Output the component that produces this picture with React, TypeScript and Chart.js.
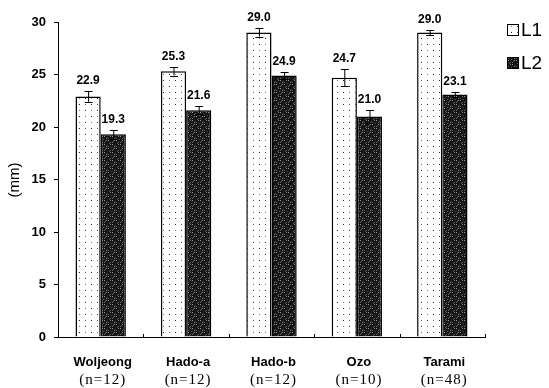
import React, { useEffect, useRef } from "react";
import { Chart, registerables } from "chart.js";

Chart.register(...registerables);

const sites = ["Woljeong", "Hado-a", "Hado-b", "Ozo", "Tarami"];
const sampleSizes = ["(n=12)", "(n=12)", "(n=12)", "(n=10)", "(n=48)"];
const l1Values = [22.9, 25.3, 29.0, 24.7, 29.0];
const l2Values = [19.3, 21.6, 24.9, 21.0, 23.1];
const l1Errors = [0.5, 0.4, 0.4, 0.8, 0.25];
const l2Errors = [0.4, 0.4, 0.3, 0.6, 0.2];
const seriesNames = ["L1", "L2"];
const yTicks = [0, 5, 10, 15, 20, 25, 30];

function makeDotPattern(): CanvasPattern | string {
  const c = document.createElement("canvas");
  c.width = 12;
  c.height = 12;
  const g = c.getContext("2d");
  if (!g) return "#fff";
  g.fillStyle = "#ffffff";
  g.fillRect(0, 0, 12, 12);
  g.fillStyle = "#222";
  g.fillRect(1, 2, 1, 1);
  g.fillRect(7, 8, 1, 1);
  g.fillStyle = "#777";
  g.fillRect(7, 2, 1, 1);
  g.fillRect(1, 8, 1, 1);
  return g.createPattern(c, "repeat") || "#fff";
}

function makeDarkPattern(): CanvasPattern | string {
  const c = document.createElement("canvas");
  c.width = 8;
  c.height = 8;
  const g = c.getContext("2d");
  if (!g) return "#222";
  g.fillStyle = "#141414";
  g.fillRect(0, 0, 8, 8);
  const light: [number, number, string][] = [
    [0, 0, "#9a9a9a"], [2, 2, "#7a7a7a"], [4, 4, "#9a9a9a"], [6, 6, "#6a6a6a"],
    [6, 0, "#7a7a7a"], [4, 2, "#5a5a5a"], [2, 4, "#8a8a8a"], [0, 6, "#6a6a6a"],
    [3, 1, "#4a4a4a"], [5, 7, "#5a5a5a"], [1, 5, "#4a4a4a"], [7, 3, "#5a5a5a"],
  ];
  light.forEach(([x, y, col]) => {
    g.fillStyle = col;
    g.fillRect(x, y, 1, 1);
  });
  return g.createPattern(c, "repeat") || "#222";
}

const decorPlugin = {
  id: "decor",
  afterDatasetsDraw(chart: any) {
    const ctx: CanvasRenderingContext2D = chart.ctx;
    const yScale = chart.scales.y;
    const xScale = chart.scales.x;
    const errs = [l1Errors, l2Errors];
    ctx.save();
    // error bars and value labels
    chart.data.datasets.forEach((ds: any, di: number) => {
      const meta = chart.getDatasetMeta(di);
      meta.data.forEach((bar: any, i: number) => {
        const v = ds.data[i];
        const e = errs[di][i];
        const x = bar.x;
        const yTop = yScale.getPixelForValue(v + e);
        const yBot = yScale.getPixelForValue(v - e);
        ctx.strokeStyle = "#000";
        ctx.lineWidth = 1;
        ctx.beginPath();
        ctx.moveTo(x + 0.5, yTop);
        ctx.lineTo(x + 0.5, yBot);
        ctx.moveTo(x - 3.5, Math.round(yTop) + 0.5);
        ctx.lineTo(x + 4.5, Math.round(yTop) + 0.5);
        ctx.moveTo(x - 3.5, Math.round(yBot) + 0.5);
        ctx.lineTo(x + 4.5, Math.round(yBot) + 0.5);
        ctx.stroke();
        ctx.fillStyle = "#000";
        ctx.font = "bold 12px 'Liberation Sans', Arial, sans-serif";
        ctx.textAlign = "center";
        ctx.textBaseline = "alphabetic";
        ctx.fillText(v.toFixed(1), x, yTop - 7);
      });
    });
    // x-axis small ticks (pointing up)
    const y0 = yScale.getPixelForValue(0);
    ctx.strokeStyle = "#000";
    ctx.lineWidth = 1;
    ctx.beginPath();
    for (let i = 1; i <= sites.length; i++) {
      const xb = Math.round(xScale.left + (xScale.width * i) / sites.length) + 0.5;
      ctx.moveTo(xb, y0 - 3);
      ctx.lineTo(xb, y0);
    }
    ctx.stroke();
    // category labels
    sites.forEach((s, i) => {
      const x = xScale.getPixelForValue(i) + 2;
      ctx.fillStyle = "#000";
      ctx.textAlign = "center";
      ctx.textBaseline = "alphabetic";
      ctx.font = "bold 13px 'Liberation Sans', Arial, sans-serif";
      (ctx as any).letterSpacing = "0px";
      ctx.fillText(s, x, y0 + 29);
      ctx.font = "15px 'Liberation Serif', 'Times New Roman', serif";
      (ctx as any).letterSpacing = "1px";
      ctx.fillText(sampleSizes[i], x, y0 + 47);
      (ctx as any).letterSpacing = "0px";
    });
    // y-axis title
    ctx.save();
    ctx.translate(15, 180);
    ctx.rotate(-Math.PI / 2);
    ctx.font = "15px 'Liberation Sans', Arial, sans-serif";
    ctx.textAlign = "center";
    ctx.textBaseline = "middle";
    ctx.fillText("(mm)", 0, 0);
    ctx.restore();
    // legend
    chart.data.datasets.forEach((ds: any, di: number) => {
      const bx = 507;
      const by = 24 + di * 33;
      ctx.fillStyle = ds.backgroundColor;
      ctx.fillRect(bx, by, 12, 12);
      ctx.strokeStyle = "#000";
      ctx.lineWidth = 1;
      ctx.strokeRect(bx + 0.5, by + 0.5, 11, 11);
      ctx.fillStyle = "#000";
      ctx.font = "19px 'Liberation Sans', Arial, sans-serif";
      ctx.textAlign = "left";
      ctx.textBaseline = "middle";
      ctx.fillText(seriesNames[di], bx + 14, by + 7);
    });
    ctx.restore();
  },
};

export default function App() {
  const ref = useRef<HTMLCanvasElement | null>(null);
  useEffect(() => {
    if (!ref.current) return;
    const chart = new Chart(ref.current, {
      type: "bar",
      data: {
        labels: sites,
        datasets: [
          {
            label: seriesNames[0],
            data: l1Values,
            backgroundColor: makeDotPattern() as any,
            borderColor: "#000",
            borderWidth: 1.5,
            categoryPercentage: 0.59,
            barPercentage: 1,
          },
          {
            label: seriesNames[1],
            data: l2Values,
            backgroundColor: makeDarkPattern() as any,
            borderColor: "#000",
            borderWidth: 1.5,
            categoryPercentage: 0.59,
            barPercentage: 1,
          },
        ],
      },
      options: {
        animation: false,
        responsive: false,
        devicePixelRatio: 1,
        layout: { padding: { top: 22, right: 64, bottom: 51, left: 0 } },
        plugins: { legend: { display: false }, tooltip: { enabled: false } },
        scales: {
          x: {
            offset: true,
            ticks: { display: false },
            grid: { display: false },
            border: { display: true, color: "#000", width: 1 },
            afterFit: (s: any) => {
              s.height = 0;
            },
          },
          y: {
            min: 0,
            max: 30,
            afterBuildTicks: (s: any) => {
              s.ticks = yTicks.map((v) => ({ value: v }));
            },
            ticks: {
              color: "#000",
              padding: 8,
              font: { family: "'Liberation Sans', Arial, sans-serif", size: 13, weight: "bold" },
            },
            grid: { display: true, drawOnChartArea: false, tickLength: 4, color: "#000" },
            border: { display: true, color: "#000", width: 1 },
            afterFit: (s: any) => {
              s.width = 58;
            },
          },
        },
      },
      plugins: [decorPlugin],
    });
    return () => chart.destroy();
  }, []);
  return (
    <div style={{ position: "fixed", left: 0, top: 0, width: 549, height: 388, background: "#fff" }}>
      <canvas ref={ref} width={549} height={388} style={{ width: 549, height: 388 }} />
    </div>
  );
}
